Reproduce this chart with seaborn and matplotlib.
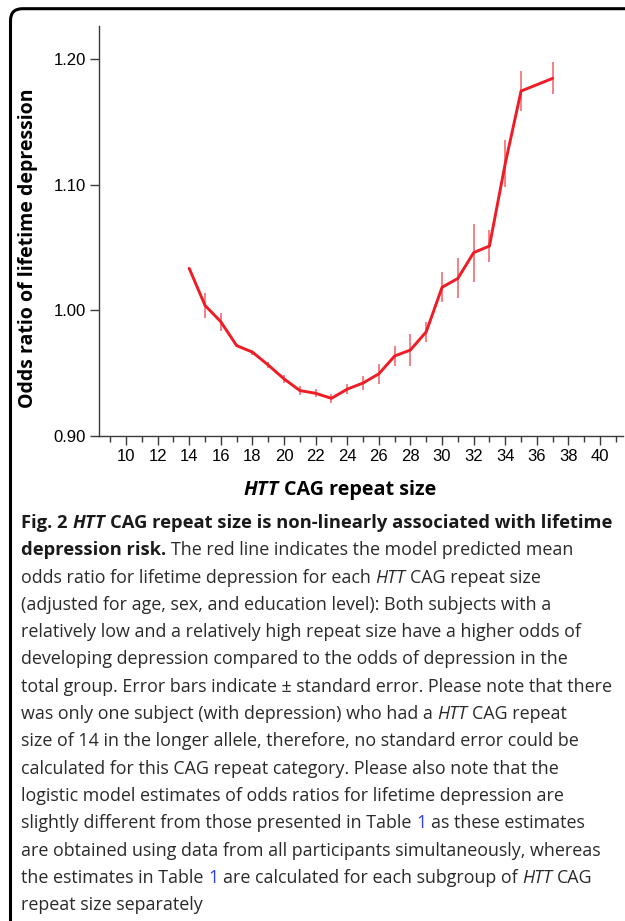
import numpy as np
import matplotlib
matplotlib.use("Agg")
import matplotlib.pyplot as plt
import seaborn as sns
from matplotlib.path import Path
from matplotlib.patches import PathPatch
from matplotlib.ticker import MultipleLocator

# values
repeat_size = [14, 15, 16, 17, 18, 19, 20, 21, 22, 23, 24, 25, 26,
               27, 28, 29, 30, 31, 32, 33, 34, 35, 37]
odds_ratio = [1.0335, 1.0040, 0.9910, 0.9720, 0.9668, 0.9565, 0.9455,
              0.9362, 0.9340, 0.9300, 0.9373, 0.9422, 0.9495, 0.9637,
              0.9685, 0.9830, 1.0184, 1.0255, 1.0460, 1.0513, 1.1170,
              1.1747, 1.1848]
std_error = [np.nan, 0.0100, 0.0070, 0.0015, 0.0020, 0.0027, 0.0033,
             0.0037, 0.0033, 0.0037, 0.0040, 0.0053, 0.0080, 0.0080,
             0.0130, 0.0080, 0.0120, 0.0160, 0.0230, 0.0130, 0.0190,
             0.0160, 0.0127]

x_ticks = list(range(10, 41, 2))
y_ticks = [0.90, 1.00, 1.10, 1.20]
y_tick_labels = ["0.90", "1.00", "1.10", "1.20"]

txt = "#2a2a2a"
blue = "#2b3ff0"
caption_lines = [
    [("Fig. 2 ", "bold", "normal", "k"), ("HTT", "bold", "italic", "k"),
     (" CAG repeat size is non-linearly associated with lifetime", "bold", "normal", "k")],
    [("depression risk.", "bold", "normal", "k"),
     (" The red line indicates the model predicted mean", "normal", "normal", txt)],
    [("odds ratio for lifetime depression for each ", "normal", "normal", txt),
     ("HTT", "normal", "italic", txt), (" CAG repeat size", "normal", "normal", txt)],
    [("(adjusted for age, sex, and education level): Both subjects with a", "normal", "normal", txt)],
    [("relatively low and a relatively high repeat size have a higher odds of", "normal", "normal", txt)],
    [("developing depression compared to the odds of depression in the", "normal", "normal", txt)],
    [("total group. Error bars indicate \u00b1 standard error. Please note that there", "normal", "normal", txt)],
    [("was only one subject (with depression) who had a ", "normal", "normal", txt),
     ("HTT", "normal", "italic", txt), (" CAG repeat", "normal", "normal", txt)],
    [("size of 14 in the longer allele, therefore, no standard error could be", "normal", "normal", txt)],
    [("calculated for this CAG repeat category. Please also note that the", "normal", "normal", txt)],
    [("logistic model estimates of odds ratios for lifetime depression are", "normal", "normal", txt)],
    [("slightly different from those presented in Table ", "normal", "normal", txt),
     ("1", "normal", "normal", blue), (" as these estimates", "normal", "normal", txt)],
    [("are obtained using data from all participants simultaneously, whereas", "normal", "normal", txt)],
    [("the estimates in Table ", "normal", "normal", txt), ("1", "normal", "normal", blue),
     (" are calculated for each subgroup of ", "normal", "normal", txt),
     ("HTT", "normal", "italic", txt), (" CAG", "normal", "normal", txt)],
    [("repeat size separately", "normal", "normal", txt)],
]

W, H = 625, 921
sns.set_theme(style="ticks")
plt.rcParams["font.family"] = ["Liberation Sans", "DejaVu Sans"]

fig = plt.figure(figsize=(W / 100, H / 100), dpi=100)
renderer = fig.canvas.get_renderer()

# outer frame: top and left edges with a rounded corner, open to the right/bottom
fl, ft, r = 10.5, 8.7, 12
verts = [(W + 20, ft), (fl + r, ft), (fl, ft), (fl, ft + r), (fl, H + 20)]
codes = [Path.MOVETO, Path.LINETO, Path.CURVE3, Path.CURVE3, Path.LINETO]
verts = [(x / 100, (H - y) / 100) for x, y in verts]
fig.patches.append(PathPatch(Path(verts, codes), transform=fig.dpi_scale_trans,
                             fill=False, edgecolor="black", linewidth=2.2,
                             zorder=0))

ax = fig.add_axes([99.3 / W, 1 - 436 / H, (623.3 - 99.3) / W, (436 - 26) / H])
red = "#ee1c25"
sns.lineplot(x=repeat_size, y=odds_ratio, color=red, linewidth=2.1, ax=ax)
ax.errorbar(repeat_size, odds_ratio, yerr=std_error, fmt="none",
            ecolor=red, alpha=0.65, elinewidth=1.2, capsize=0)

ax.set_xlim(8.31, 41.47)
ax.set_ylim(0.90, 1.2265)
ax.set_xticks(x_ticks)
ax.xaxis.set_minor_locator(MultipleLocator(1))
ax.set_yticks(y_ticks)
ax.set_yticklabels(y_tick_labels)
sns.despine(ax=ax)
for s in ["left", "bottom"]:
    ax.spines[s].set_color("#3a3a3a")
    ax.spines[s].set_linewidth(1.0)
ax.tick_params(axis="both", which="major", length=6.5, width=1.0,
               color="#3a3a3a", labelsize=12, labelcolor="#000")
ax.tick_params(axis="x", which="major", pad=3.0)
ax.tick_params(axis="y", which="major", pad=3.0)
ax.tick_params(axis="x", which="minor", length=4, width=1.0, color="#3a3a3a")
ax.set_xlabel("")
ax.set_ylabel("")

cap_font = "Open Sans"


def px(x, y):
    return x / W, 1 - y / H


def seg_width(text, size, weight, style, family):
    t = fig.text(0, 0, text, fontsize=size, fontweight=weight,
                 fontstyle=style, family=family)
    w = t.get_window_extent(renderer).width
    t.remove()
    return w


def rich_line(x, y, parts, size, family, ha="left", bold_size=None):
    # lay segments side by side, spaces handled by measured space width
    bold_size = bold_size or size
    pieces = []
    total = 0
    for s, weight, style, color in parts:
        fs = bold_size if weight == "bold" else size
        sw = seg_width("a a", fs, weight, "normal", family) - \
            seg_width("aa", fs, weight, "normal", family)
        lead = len(s) - len(s.lstrip(" "))
        trail = len(s) - len(s.rstrip(" "))
        core = s.strip(" ")
        w = seg_width(core, fs, weight, style, family)
        pieces.append((lead * sw, core, fs, weight, style, color, w, trail * sw))
        total += lead * sw + w + trail * sw
    cx = x - total / 2 if ha == "center" else x
    for lead, core, fs, weight, style, color, w, trail in pieces:
        cx += lead
        fig.text(*px(cx, y), core, fontsize=fs, fontweight=weight,
                 fontstyle=style, color=color, family=family,
                 ha="left", va="baseline")
        cx += w + trail


# axis labels
fig.text(*px(28, 248), "Odds ratio of lifetime depression", rotation=90,
         ha="center", va="center", fontsize=14, fontweight="bold",
         family=cap_font, color="#000")
rich_line(340, 495, [("HTT", "bold", "italic", "#000"),
                     (" CAG repeat size", "bold", "normal", "#000")],
          14.2, cap_font, ha="center")

# caption
for i, parts in enumerate(caption_lines):
    rich_line(21, 528 + i * 27.3, parts, 12.85, cap_font, bold_size=13.2)

fig.savefig("out.png", dpi=100)
